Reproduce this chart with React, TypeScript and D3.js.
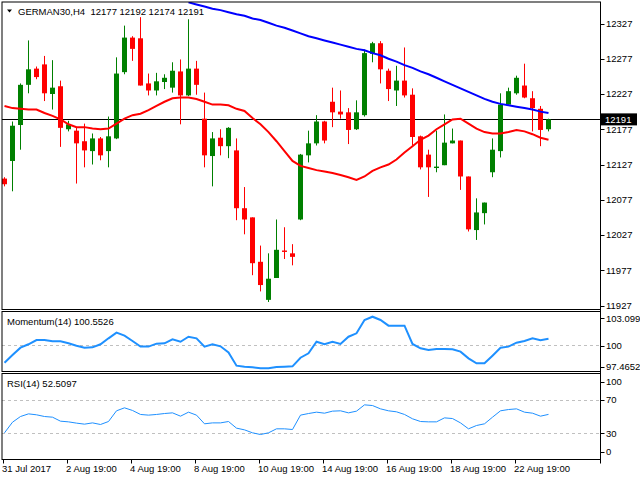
import React from "react";
import * as d3 from "d3";

const opens = [12107,12132,12183,12240,12263,12269,12227,12238,12177,12175,12160,12146,12164,12146,12164,12258,12307,12306,12242,12232,12244,12236,12259,12225,12263,12192,12139,12165,12153,12147,12065,12052,11989,11935,11966,12005,12001,12049,12140,12157,12188,12216,12202,12201,12177,12197,12284,12299,12260,12232,12246,12226,12167,12141,12122,12126,12157,12161,12110,12034,12058,12116,12146,12212,12228,12239,12221,12206,12177];
const highs = [12109,12188,12242,12303,12266,12281,12275,12246,12189,12180,12185,12171,12166,12195,12279,12324,12309,12336,12256,12257,12255,12272,12276,12333,12274,12229,12173,12177,12180,12164,12095,12052,12012,12001,12049,12038,12014,12142,12175,12197,12189,12236,12232,12207,12218,12290,12301,12302,12263,12267,12293,12235,12168,12148,12175,12198,12178,12161,12110,12079,12073,12164,12228,12236,12253,12270,12231,12210,12192];
const lows = [12096,12089,12148,12228,12248,12217,12205,12152,12174,12100,12123,12127,12133,12123,12163,12255,12274,12239,12225,12225,12234,12229,12184,12224,12226,12123,12096,12140,12136,12048,12028,11970,11947,11932,11966,11993,11984,12048,12130,12154,12157,12180,12192,12156,12176,12195,12272,12242,12217,12210,12222,12154,12120,12081,12116,12126,12157,12091,12032,12020,12042,12109,12137,12212,12226,12221,12174,12153,12174];
const closes = [12099,12182,12240,12262,12251,12228,12236,12179,12184,12157,12147,12164,12140,12167,12256,12307,12291,12239,12232,12245,12250,12260,12225,12263,12240,12140,12164,12153,12179,12065,12049,11987,11956,11965,12006,12003,11996,12141,12157,12188,12161,12201,12198,12176,12201,12285,12299,12262,12234,12246,12225,12166,12123,12123,12124,12158,12161,12110,12035,12059,12073,12148,12212,12231,12250,12222,12207,12176,12191];

const redMA = [12210,12207,12206,12205,12205,12200,12196,12191,12184,12180,12180,12178,12177,12178,12185,12192,12197,12199,12204,12210,12216,12221,12222,12222,12220,12216,12212,12212,12211,12206,12203,12193,12184,12173,12160,12146,12132,12125,12122,12119,12117,12115,12112,12109,12105,12110,12118,12123,12127,12134,12144,12153,12162,12168,12177,12184,12191,12192,12185,12178,12173,12171,12171,12173,12176,12174,12170,12165,12162];
const blueStart = 23;
const blueMA = [12357,12354,12351,12348,12346,12343,12340,12338,12334,12332,12328,12324,12321,12317,12313,12309,12306,12303,12300,12297,12294,12291,12289,12285,12282,12277,12273,12268,12264,12259,12255,12250,12245,12240,12235,12230,12225,12220,12216,12213,12211,12209,12207,12205,12202,12200];

const momentum = [98.31,99.03,99.72,100.04,100.44,100.44,100.32,100.32,100.13,99.91,99.72,99.75,100.04,100.60,101.13,100.85,100.35,99.82,99.82,100.10,100.13,100.51,100.28,100.75,100.60,99.82,100.04,99.85,99.28,98.03,97.94,97.88,97.78,97.78,97.91,97.94,97.97,98.78,99.19,100.28,100.04,100.28,100.07,100.75,101.07,102.32,102.63,102.32,101.79,101.79,101.79,100.07,99.66,99.50,99.60,99.60,99.57,99.35,98.72,98.25,98.25,98.97,99.72,99.82,100.19,100.35,100.60,100.41,100.55];
const rsi = [30.8,43.3,50.0,53.1,52.0,50.0,49.2,44.5,43.7,42.2,41.0,42.5,40.6,44.1,56.7,60.2,57.1,52.4,51.6,52.4,53.5,54.3,50.4,55.1,51.6,41.4,42.5,42.5,44.1,36.3,34.3,30.8,28.8,30.8,35.5,35.5,34.7,51.6,53.5,55.1,53.9,56.3,56.7,54.3,56.3,63.7,62.9,59.0,56.7,55.5,52.4,47.3,44.1,43.7,43.7,48.4,47.6,42.5,35.5,39.4,41.4,49.2,56.7,58.2,59.0,55.1,53.9,50.4,52.5];

const priceTicks = [12327, 12277, 12227, 12177, 12127, 12077, 12027, 11977, 11927];
const momTicks = ["103.0996", "100", "97.4652"];
const momTickVals = [103.0996, 100, 97.4652];
const rsiTicks = [100, 70, 30, 0];
const timeTickBars = [0, 8, 16, 24, 32, 40, 48, 56, 64];
const timeTickLabels = ["31 Jul 2017", "2 Aug 19:00", "4 Aug 19:00", "8 Aug 19:00", "10 Aug 19:00", "14 Aug 19:00", "16 Aug 19:00", "18 Aug 19:00", "22 Aug 19:00"];

const symbol = "GERMAN30,H4";
const ohlcText = "12177 12192 12174 12191";
const lastPrice = 12191;
const momLabel = "Momentum(14) 100.5526";
const rsiLabel = "RSI(14) 52.5097";

const FONT = "'Liberation Sans', Arial, sans-serif";
const FS = 9.5;

export default function App() {
  const W = 640, H = 480;
  const left = 2, right = 600.5;
  const mainTop = 2, mainBot = 309.5;
  const momTop = 311.5, momBot = 371.5;
  const rsiTop = 373.5, rsiBot = 459.5;

  const x = d3.scaleLinear().domain([0, 68]).range([4, 548]);
  const yP = d3.scaleLinear().domain([11927, 12327]).range([305.5, 23.5]);
  const yM = d3.scaleLinear().domain([97.4652, 103.0996]).range([371.7, 311.7]);
  const yR = d3.scaleLinear().domain([0, 100]).range([459, 374]);

  const redLine = d3.line<number>().x((_, i) => x(i) + 0.5).y((d) => yP(d));
  const blueLine = d3.line<number>().x((_, i) => x(i + blueStart) + 0.5).y((d) => yP(d));
  const momLine = d3.line<number>().x((_, i) => x(i) + 0.5).y((d) => yM(d));
  const rsiLine = d3.line<number>().x((_, i) => x(i) + 0.5).y((d) => yR(d));

  const momLabelY = [318.3, 345.5, 366.7];
  const rsiLabelY = [381.5, yR(70), yR(30), 452];

  return (
    <svg width={W} height={H} style={{ position: "absolute", left: 0, top: 0, background: "#fff" }} fontFamily={FONT}>
      <defs>
        <clipPath id="mainClip"><rect x={left} y={mainTop} width={right - left} height={mainBot - mainTop} /></clipPath>
        <clipPath id="momClip"><rect x={left} y={momTop} width={right - left} height={momBot - momTop} /></clipPath>
      </defs>
      <rect x={0} y={0} width={W} height={H} fill="#fff" />

      {/* main panel */}
      <g clipPath="url(#mainClip)">
        <line x1={left} x2={right} y1={Math.round(yP(lastPrice)) + 0.5} y2={Math.round(yP(lastPrice)) + 0.5} stroke="#000" strokeWidth={1} />
        {opens.map((o, i) => {
          const c = closes[i];
          const up = c >= o;
          const col = up ? "#008000" : "#ff0000";
          const cx = x(i);
          const top = yP(Math.max(o, c));
          const bot = yP(Math.min(o, c));
          return (
            <g key={i}>
              <rect x={cx} y={yP(highs[i])} width={1} height={yP(lows[i]) - yP(highs[i])} fill={col} />
              <rect x={cx - 2} y={top} width={5} height={Math.max(1, bot - top)} fill={col} />
            </g>
          );
        })}
        <path d={redLine(redMA) || ""} fill="none" stroke="#ff0000" strokeWidth={2} />
        <path d={blueLine(blueMA) || ""} fill="none" stroke="#0000ff" strokeWidth={2} />
      </g>
      <rect x={left} y={mainTop} width={right - left} height={mainBot - mainTop} fill="none" stroke="#000" strokeWidth={1} />
      <path d={`M7,9.5 L12,9.5 L9.5,12.5 Z`} fill="#000" />
      <text x={18} y={14.5} fontSize={FS} fill="#000">{symbol}</text>
      <text x={90.5} y={14.5} fontSize={FS} fill="#000">{ohlcText}</text>

      {/* price axis */}
      {priceTicks.map((p) => (
        <g key={p}>
          <line x1={right} x2={right + 4} y1={Math.round(yP(p)) + 0.5} y2={Math.round(yP(p)) + 0.5} stroke="#000" />
          <text x={606} y={yP(p)} dy="0.35em" fontSize={FS} fill="#000">{p}</text>
        </g>
      ))}
      <rect x={601} y={yP(lastPrice) - 6} width={36} height={12} fill="#000" />
      <text x={605} y={yP(lastPrice)} dy="0.35em" fontSize={FS} fill="#fff">{lastPrice}</text>

      {/* momentum panel */}
      <line x1={left} x2={right} y1={Math.round(yM(100)) + 0.5} y2={Math.round(yM(100)) + 0.5} stroke="#c0c0c0" strokeDasharray="3,3" />
      <g clipPath="url(#momClip)">
        <path d={momLine(momentum) || ""} fill="none" stroke="#1e90ff" strokeWidth={2} />
      </g>
      <rect x={left} y={momTop} width={right - left} height={momBot - momTop} fill="none" stroke="#000" strokeWidth={1} />
      <text x={7} y={325} fontSize={FS} fill="#000">{momLabel}</text>
      {momTicks.map((t, i) => (
        <g key={t}>
          <line x1={right} x2={right + 4} y1={Math.round(momLabelY[i]) + 0.5} y2={Math.round(momLabelY[i]) + 0.5} stroke="#000" />
          <text x={606} y={momLabelY[i]} dy="0.35em" fontSize={FS} fill="#000">{t}</text>
        </g>
      ))}

      {/* RSI panel */}
      {[70, 30].map((v) => (
        <line key={v} x1={left} x2={right} y1={Math.round(yR(v)) + 0.5} y2={Math.round(yR(v)) + 0.5} stroke="#c0c0c0" strokeDasharray="3,3" />
      ))}
      <path d={rsiLine(rsi) || ""} fill="none" stroke="#1e90ff" strokeWidth={1} />
      <rect x={left} y={rsiTop} width={right - left} height={rsiBot - rsiTop} fill="none" stroke="#000" strokeWidth={1} />
      <text x={7} y={387} fontSize={FS} fill="#000">{rsiLabel}</text>
      {rsiTicks.map((t, i) => (
        <g key={t}>
          <line x1={right} x2={right + 4} y1={Math.round(rsiLabelY[i]) + 0.5} y2={Math.round(rsiLabelY[i]) + 0.5} stroke="#000" />
          <text x={606} y={rsiLabelY[i]} dy="0.35em" fontSize={FS} fill="#000">{t}</text>
        </g>
      ))}

      {/* right axis line */}
      <line x1={right} x2={right} y1={mainTop} y2={rsiBot + 4} stroke="#000" />

      {/* time axis */}
      {timeTickBars.map((b, i) => (
        <g key={b}>
          <line x1={Math.round(x(b)) - 0.5} x2={Math.round(x(b)) - 0.5} y1={rsiBot} y2={rsiBot + 4} stroke="#000" />
          <text x={x(b) - 2} y={472} fontSize={FS} fill="#000">{timeTickLabels[i]}</text>
        </g>
      ))}
    </svg>
  );
}
